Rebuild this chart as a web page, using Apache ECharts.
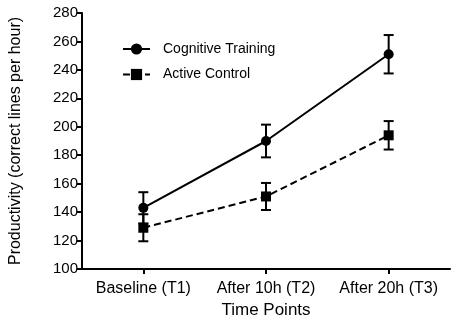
<!DOCTYPE html>
<html>
<head>
<meta charset="utf-8">
<script src="https://cdn.jsdelivr.net/npm/echarts@6/dist/echarts.min.js"></script>
<style>
  html, body { margin: 0; padding: 0; background: #fff; }
  #chart { width: 453px; height: 325px; }
</style>
</head>
<body>
<div id="chart"></div>
<script>
const timePoints = ['Baseline (T1)', 'After 10h (T2)', 'After 20h (T3)'];
const cognitiveMean = [143, 190, 251];
const cognitiveErr = [11, 11.5, 13.5];
const controlMean = [129, 151, 194];
const controlErr = [9.5, 9.5, 10];
const yTicks = { min: 100, max: 280, step: 20 };

const chart = echarts.init(document.getElementById('chart'));
const font = 'Liberation Sans, Arial, sans-serif';

function errorBars(means, errs) {
  return means.map((m, i) => [i, m - errs[i], m + errs[i]]);
}

function renderErr(params, api) {
  const lo = api.coord([api.value(0), api.value(1)]);
  const hi = api.coord([api.value(0), api.value(2)]);
  const half = 5;
  const style = { stroke: '#000', lineWidth: 2 };
  return {
    type: 'group',
    children: [
      { type: 'line', shape: { x1: lo[0], y1: lo[1], x2: hi[0], y2: hi[1] }, style },
      { type: 'line', shape: { x1: lo[0] - half, y1: lo[1], x2: lo[0] + half, y2: lo[1] }, style },
      { type: 'line', shape: { x1: hi[0] - half, y1: hi[1], x2: hi[0] + half, y2: hi[1] }, style }
    ]
  };
}

const option = {
  animation: false,
  textStyle: { fontFamily: font, color: '#000' },
  grid: { left: 77, right: 3, top: 13, bottom: 56 },
  legend: {
    orient: 'vertical',
    left: 117,
    top: 37,
    itemWidth: 27,
    itemHeight: 14,
    itemGap: 11.5,
    textStyle: { fontSize: 14, color: '#000', fontFamily: font, padding: [0, 0, 0, 8] },
    data: ['Cognitive Training', 'Active Control']
  },
  xAxis: {
    type: 'category',
    data: timePoints,
    boundaryGap: true,
    name: 'Time Points',
    nameLocation: 'middle',
    nameGap: 31,
    nameTextStyle: { fontSize: 17, color: '#000', fontFamily: font },
    axisLine: { lineStyle: { color: '#000', width: 2 } },
    axisTick: { show: true, interval: 0, alignWithLabel: true, length: 5, lineStyle: { color: '#000', width: 2 } },
    axisLabel: { interval: 0, fontSize: 16, color: '#000', margin: 12, fontFamily: font }
  },
  yAxis: {
    type: 'value',
    min: yTicks.min,
    max: yTicks.max,
    interval: yTicks.step,
    name: 'Productivity (correct lines per hour)',
    nameLocation: 'middle',
    nameGap: 58,
    nameTextStyle: { fontSize: 16, color: '#000', fontFamily: font },
    axisLine: { show: true, lineStyle: { color: '#000', width: 2 } },
    axisTick: { show: true, length: 5, lineStyle: { color: '#000', width: 2 } },
    axisLabel: { fontSize: 15, color: '#000', margin: 4, fontFamily: font },
    splitLine: { show: false }
  },
  series: [
    {
      name: 'Cognitive Training',
      type: 'line',
      data: cognitiveMean,
      symbol: 'circle',
      symbolSize: 10,
      itemStyle: { color: '#000' },
      lineStyle: { color: '#000', width: 2 },
      z: 3
    },
    {
      name: 'Active Control',
      type: 'line',
      data: controlMean,
      symbol: 'rect',
      symbolSize: 10,
      itemStyle: { color: '#000' },
      lineStyle: { color: '#000', width: 2, type: [7, 4] },
      z: 3
    },
    {
      type: 'custom',
      data: errorBars(cognitiveMean, cognitiveErr),
      renderItem: renderErr,
      encode: { x: 0, y: [1, 2] },
      z: 2
    },
    {
      type: 'custom',
      data: errorBars(controlMean, controlErr),
      renderItem: renderErr,
      encode: { x: 0, y: [1, 2] },
      z: 2
    }
  ]
};

chart.setOption(option);
</script>
</body>
</html>
